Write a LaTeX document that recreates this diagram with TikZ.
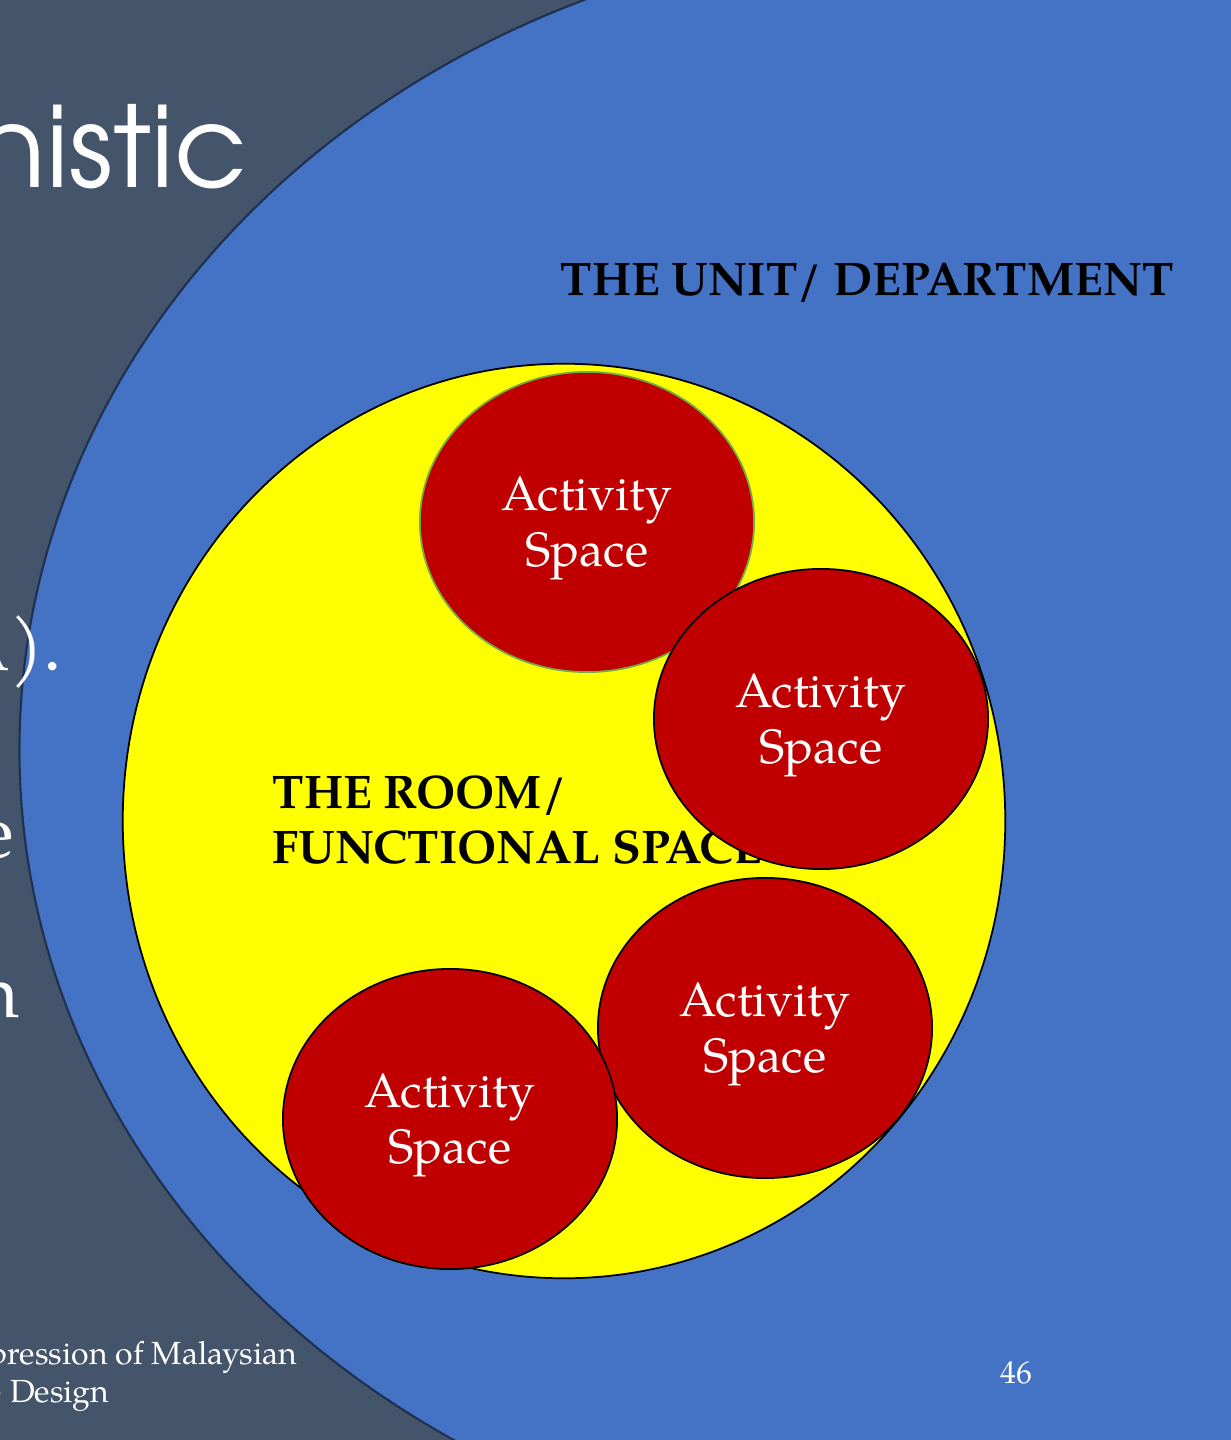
\documentclass[tikz,border=0pt]{standalone}
\usepackage{fontspec}
\setmainfont{texgyrepagella}[Extension=.otf, UprightFont=*-regular, BoldFont=*-bold, ItalicFont=*-italic, BoldItalicFont=*-bolditalic]
\newfontfamily\titlefont{texgyreadventor}[Extension=.otf, UprightFont=*-regular]
\usepackage{xcolor}
\usepackage{tikz}
\usetikzlibrary{shapes.geometric}
\definecolor{slate}{HTML}{44546A}
\definecolor{unitblue}{HTML}{4472C4}
\definecolor{navy}{HTML}{1F3050}
\definecolor{roomyellow}{HTML}{FFFF00}
\definecolor{spacered}{HTML}{C00000}
\definecolor{leafgreen}{HTML}{70AD47}
\tikzstyle{unit} = [ellipse, draw=navy, line width=0.6pt, fill=unitblue, minimum width=18.6cm, minimum height=16.3cm, inner sep=0pt]
\tikzstyle{room} = [ellipse, draw=black, line width=0.5pt, fill=roomyellow, minimum width=8.82cm, minimum height=9.14cm, inner sep=0pt]
\tikzstyle{activity} = [ellipse, draw=black, line width=0.5pt, fill=spacered, minimum width=3.34cm, minimum height=3.0cm, inner sep=0pt, text depth=0pt, text=white, align=center, font=\fontsize{13.7}{15.9}\selectfont]
\tikzstyle{heading} = [inner sep=0pt, text=black, align=left, font=\fontsize{13.4}{15.4}\selectfont\bfseries]
\tikzstyle{slidetext} = [inner sep=0pt, text=white]

\begin{document}
\begin{tikzpicture}[x=0.01cm, y=-0.01cm]

	\path [use as bounding box, fill=slate] (0,0) rectangle (1230,1440);

	\node (unit) [unit] at (950,750) {};
	\node (room) [room] at (564,821) {};

	\node (unitlabel) [heading, anchor=base west] at (560,296) {THE UNIT/ DEPARTMENT};
	\node (roomlabel) [heading, anchor=west] at (272,820) {THE ROOM/\\FUNCTIONAL SPACE};

	\node (act1) [activity, draw=leafgreen] at (587,522) {Activity\\Space};
	\node (act2) [activity] at (821,719) {Activity\\Space};
	\node (act3) [activity] at (765,1028) {Activity\\Space};
	\node (act4) [activity] at (450,1119) {Activity\\Space};

	% slide text left over from the page behind
	\node (title) [slidetext, anchor=base east, font=\titlefont\fontsize{32}{36}\selectfont] at (248,188) {nistic};
	\node (frag1) [slidetext, anchor=base east, font=\fontsize{21}{24}\selectfont] at (63,670) {A).};
	\node (frag2) [slidetext, anchor=base east, font=\fontsize{21}{24}\selectfont] at (15,857) {e};
	\node (frag3) [slidetext, anchor=base east, font=\fontsize{21}{24}\selectfont] at (20,1017) {n};
	\node (foot1) [slidetext, anchor=base east, font=\fontsize{9.1}{11.4}\selectfont] at (298,1364) {pression of Malaysian};
	\node (foot2) [slidetext, anchor=base west, font=\fontsize{9.1}{11.4}\selectfont] at (-14,1402) {e Design};
	\node (pagenum) [slidetext, anchor=base east, font=\fontsize{9}{11}\selectfont] at (1033,1383) {46};

\end{tikzpicture}
\end{document}
